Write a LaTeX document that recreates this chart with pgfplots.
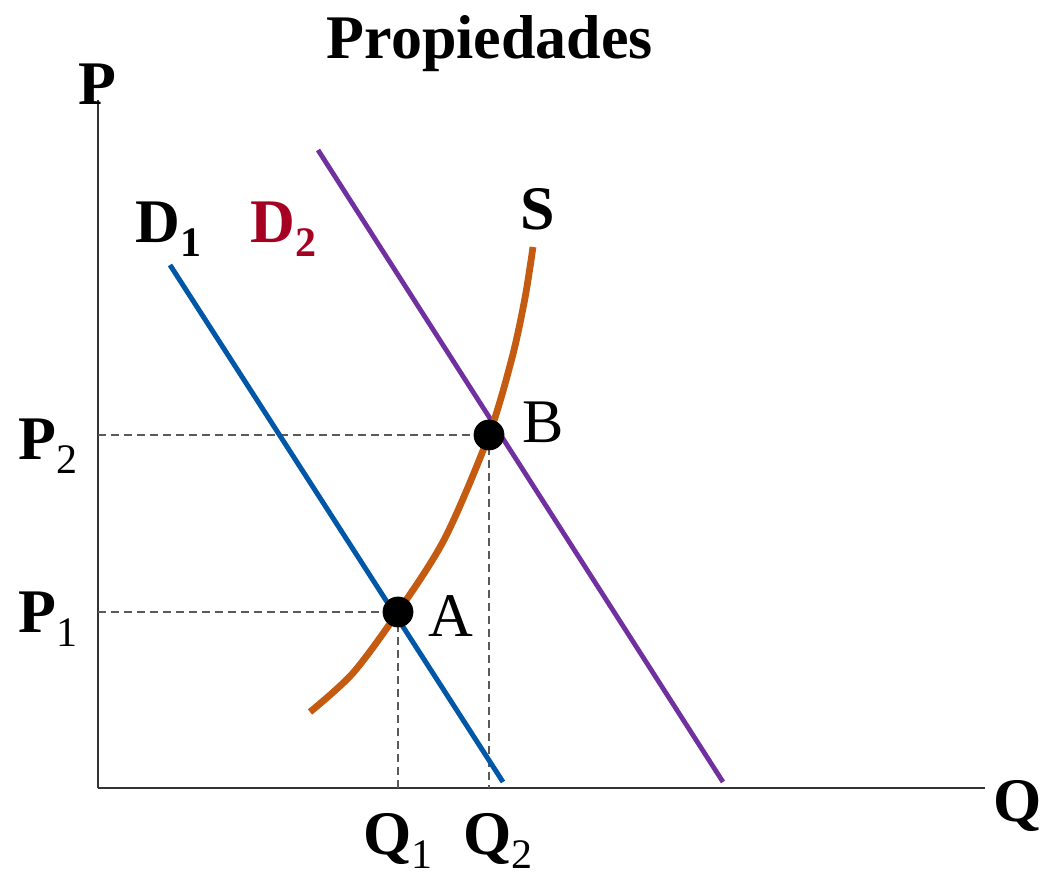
\documentclass[border=0pt]{standalone}
\usepackage{pgfplots}
\pgfplotsset{compat=1.18}
\usepackage{fontspec}
\setmainfont{Liberation Serif}
\definecolor{dblue}{RGB}{0,87,168}
\definecolor{dpurple}{RGB}{112,48,160}
\definecolor{dorange}{RGB}{197,90,17}
\definecolor{dred}{RGB}{165,0,33}
\definecolor{dgray}{RGB}{90,90,90}
\newcommand{\lbl}{\fontsize{31}{36}\selectfont}
\newcommand{\sub}[1]{\raisebox{-7pt}{\fontsize{21}{24}\selectfont #1}}
\begin{document}
\begin{tikzpicture}
\begin{axis}[
  scale only axis,
  width=443.5pt, height=344pt,
  xmin=0, xmax=887, ymin=0, ymax=688,
  axis x line=bottom, axis y line=left,
  axis line style={-, line width=1pt, color=black!80},
  xtick=\empty, ytick=\empty,
  clip=false,
]
\path (axis cs:-98,-89) rectangle (axis cs:948,788);
% dashed guides
\addplot[dgray, line width=0.9pt, dash pattern=on 4pt off 2.5pt] coordinates {(0,176) (300,176) (300,0)};
\addplot[dgray, line width=0.9pt, dash pattern=on 4pt off 2.5pt] coordinates {(0,353) (391,353) (391,0)};
% D1
\addplot[dblue, line width=2.5pt] coordinates {(72,523) (405,6)};
% D2
\addplot[dpurple, line width=2.4pt] coordinates {(220,638) (625,6)};
% S
\addplot[dorange, line width=3.4pt, smooth] coordinates {
(212,76) (255,115) (300,176) (347,250) (391,353) (414,430) (427,490) (435,541)};
% points
\addplot[only marks, mark=*, mark size=7.5pt, black] coordinates {(300,176) (391,353)};
% labels
\node[anchor=base, inner sep=0] at (axis cs:392,729) {\lbl\bfseries Propiedades};
\node[anchor=base west, inner sep=0] at (axis cs:-20,683) {\lbl\bfseries P};
\node[anchor=base west, inner sep=0] at (axis cs:895,-34) {\lbl\bfseries Q};
\node[anchor=base west, inner sep=0] at (axis cs:-80,328) {\lbl\bfseries P\sub{\mdseries 2}};
\node[anchor=base west, inner sep=0] at (axis cs:-80,155) {\lbl\bfseries P\sub{\mdseries 1}};
\node[anchor=base west, inner sep=0] at (axis cs:265,-67) {\lbl\bfseries Q\sub{\mdseries 1}};
\node[anchor=base west, inner sep=0] at (axis cs:365,-67) {\lbl\bfseries Q\sub{\mdseries 2}};
\node[anchor=base west, inner sep=0] at (axis cs:37,545) {\lbl\bfseries D\sub{1}};
\node[anchor=base west, inner sep=0, text=dred] at (axis cs:152,545) {\lbl\bfseries D\sub{2}};
\node[anchor=base west, inner sep=0] at (axis cs:422,558) {\lbl\bfseries S};
\node[anchor=base west, inner sep=0] at (axis cs:330,151) {\lbl A};
\node[anchor=base west, inner sep=0] at (axis cs:424,345) {\lbl B};
\end{axis}
\end{tikzpicture}
\end{document}
